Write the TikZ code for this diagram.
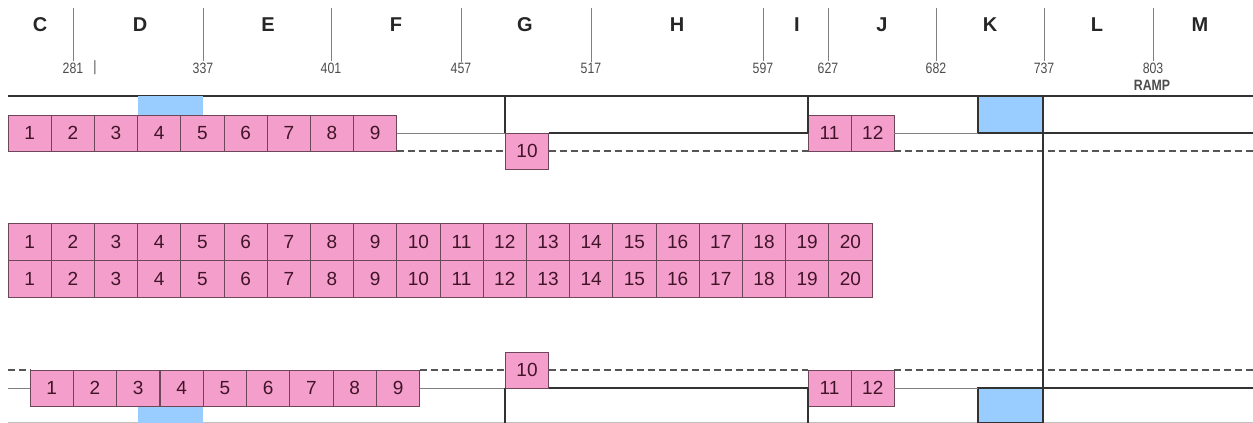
\documentclass[tikz,border=0pt]{standalone}
\usepackage{fontspec}
\setmainfont{Liberation Sans}
\newfontfamily\narrowfont[FakeStretch=0.82]{Liberation Sans}
\usetikzlibrary{positioning, calc}
\definecolor{seatpink}{RGB}{244,158,204}
\definecolor{seatedge}{RGB}{110,70,90}
\definecolor{seattext}{RGB}{65,20,40}
\definecolor{doorblue}{RGB}{153,204,255}
\definecolor{railgray}{RGB}{50,50,50}
\definecolor{dashgray}{RGB}{85,85,85}

\begin{document}
\begin{tikzpicture}[
    x=1pt, y=-1pt,
    seat/.style={rectangle, draw=seatedge, fill=seatpink, line width=0.9pt, minimum width=43.2pt, minimum height=36pt, inner sep=0pt, outer sep=0pt, text height=13.6pt, text depth=0pt, text=seattext, font=\fontsize{19}{19}\selectfont},
    door/.style={rectangle, fill=doorblue, inner sep=0pt, outer sep=0pt},
    zone/.style={font=\bfseries\fontsize{20}{20}\selectfont, text=black!85},
    kmline/.style={draw=gray, line width=0.9pt},
    kmlabel/.style={font=\narrowfont\fontsize{15}{15}\selectfont, text=black!70, inner sep=1pt},
    rail/.style={line width=2pt, draw=railgray},
    thinrail/.style={line width=0.8pt, draw=gray},
    dashrail/.style={line width=2.2pt, draw=dashgray, dash pattern=on 7pt off 4pt}
]
\useasboundingbox (0,0) rectangle (1253,423);

% zones and kilometre posts
\foreach \lab/\xx in {C/40, D/140, E/268, F/396, G/525, H/677, I/797, J/882, K/990, L/1097, M/1200}
    \node[zone] (zone\lab) at (\xx,25) {\lab};
\foreach \num/\xx in {281/73, 337/203, 401/331, 457/461, 517/591, 597/763, 627/828, 682/936, 737/1044, 803/1153} {
    \node[kmlabel] (km\num) at (\xx,68) {\num};
    \coordinate (post\num) at (\xx,8);
    \draw[kmline] (post\num) -- (km\num.north);
}
\node[kmlabel] (kmbar) at (95,68) {|};
\node[kmlabel, font=\narrowfont\bfseries\fontsize{15}{15}\selectfont] (ramp) at (1152,85) {RAMP};

% upper track
\coordinate (railL) at (8,96);
\coordinate (railR) at (1253,96);
\draw[rail] (railL) -- (railR);
\node[door, minimum width=65pt, minimum height=19pt] (doorD1) at (170.5,105.5) {};
\foreach \i in {1,...,9}
    \node[seat] (up\i) at ({8+43.2*(\i-0.5)},133) {\i};
\node[seat] (up10) at (527,151) {10};
\node[seat] (up11) at (829.6,133) {11};
\node[seat] (up12) at (872.8,133) {12};
\node[door, draw=railgray, line width=1.5pt, minimum width=65pt, minimum height=37pt] (doorK1) at (1010.5,114.5) {};

\draw[thinrail] (up9.east) -- (up10.north west);
\draw[rail] (up10.north west) -- (up10.north west |- railL);
\draw[rail] (up10.north east) -- (up11.west);
\draw[rail] (up11.west) -- (up11.west |- railL);
\draw[thinrail] (up12.east) -- (doorK1.south west);
\coordinate (rightA) at (1253,133);
\draw[rail] (doorK1.south east) -- (rightA);
\draw[dashrail] (up9.south east) -- (up10.west);
\draw[dashrail] (up10.east) -- (up11.south west);
\coordinate (rightB) at (1253,151);
\draw[dashrail] (up12.south east) -- (rightB);

% middle rows
\foreach \i in {1,...,20} {
    \node[seat, minimum height=37pt] (rowA\i) at ({8+43.2*(\i-0.5)},241.5) {\i};
    \node[seat, minimum height=37pt] (rowB\i) at ({8+43.2*(\i-0.5)},278.5) {\i};
}

% lower track
\coordinate (floorL) at (8,422.5);
\coordinate (floorR) at (1253,422.5);
\draw[thinrail, draw=gray!50] (floorL) -- (floorR);
\node[door, minimum width=65pt, minimum height=17pt] (doorD2) at (170.5,414.5) {};
\foreach \i in {1,...,9}
    \node[seat] (dn\i) at ({30+43.3*(\i-0.5)},388) {\i};
\node[seat] (dn10) at (527,370) {10};
\node[seat] (dn11) at (829.6,388) {11};
\node[seat] (dn12) at (872.8,388) {12};
\node[door, draw=railgray, line width=1.5pt, minimum width=65pt, minimum height=35pt] (doorK2) at (1010.5,405.5) {};

\coordinate (leftC) at (8,370);
\coordinate (leftD) at (8,388);
\draw[dashrail] (leftC) -- (dn1.north west);
\draw[thinrail] (leftD) -- (dn1.west);
\draw[dashrail] (dn9.north east) -- (dn10.west);
\draw[thinrail] (dn9.east) -- (dn10.south west);
\draw[dashrail] (dn10.east) -- (dn11.north west);
\draw[rail] (dn10.south east) -- (dn11.west);
\draw[rail] (dn10.south west) -- (dn10.south west |- floorL);
\draw[rail] (dn11.west) -- (dn11.west |- floorL);
\draw[thinrail] (dn12.east) -- (doorK2.north west);
\coordinate (rightC) at (1253,370);
\coordinate (rightD) at (1253,388);
\draw[dashrail] (dn12.north east) -- (rightC);
\draw[rail] (doorK2.north east) -- (rightD);

\draw[rail] (doorK1.north east) -- (doorK2.south east);
\end{tikzpicture}
\end{document}
